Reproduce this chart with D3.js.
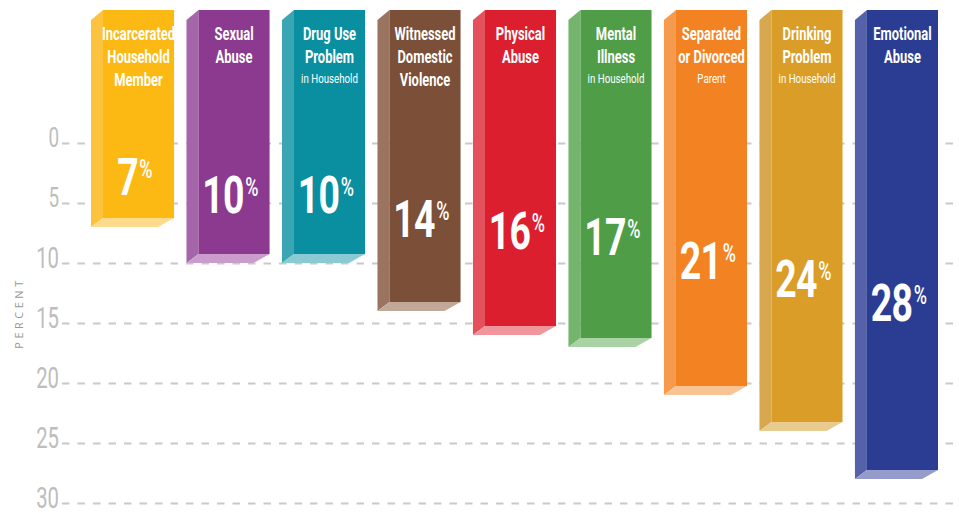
<!DOCTYPE html>
<html>
<head>
<meta charset="utf-8">
<script src="https://cdn.jsdelivr.net/npm/d3@7"></script>
<style>
  html, body { margin: 0; padding: 0; background: #fff; }
  svg { display: block; }
</style>
</head>
<body>
<div id="chart"></div>
<script>
// data
const categories = ["Incarcerated Household Member", "Sexual Abuse", "Drug Use Problem in Household",
  "Witnessed Domestic Violence", "Physical Abuse", "Mental Illness in Household",
  "Separated or Divorced Parent", "Drinking Problem in Household", "Emotional Abuse"];
const titleLines = [["Incarcerated", "Household", "Member"], ["Sexual", "Abuse"], ["Drug Use", "Problem"],
  ["Witnessed", "Domestic", "Violence"], ["Physical", "Abuse"], ["Mental", "Illness"],
  ["Separated", "or Divorced"], ["Drinking", "Problem"], ["Emotional", "Abuse"]];
const subLines = ["", "", "in Household", "", "", "in Household", "Parent", "in Household", ""];
const values = [7, 10, 10, 14, 16, 17, 21, 24, 28];
const yTicks = [0, 5, 10, 15, 20, 25, 30];

const front = ["#fdb913", "#8b3a8f", "#0a8fa1", "#7b4f38", "#dc1f2f", "#4f9e47", "#f38322", "#da9d27", "#2b3d92"];
const side  = ["#fdc33e", "#a466a8", "#3aa6b4", "#9a7460", "#e4505b", "#74b46c", "#f69a4e", "#d6a94e", "#5562aa"];
const floor = ["#fddb8c", "#c99ccb", "#8acbd3", "#c2a899", "#f0959c", "#a9d3a4", "#f9c494", "#e8cb8f", "#959ccb"];

const width = 959, height = 513;
const margin = ({top: 10, right: 21, bottom: 10, left: 91});
const depthX = 12, depthY = 9;
const narrow = "Roboto, 'Liberation Sans', sans-serif";

const x = d3.scaleBand().domain(categories).range([margin.left, width - margin.right]).paddingInner(0.13).paddingOuter(0);
const y = d3.scaleLinear().domain([0, 30]).range([143, 503]);
const cFront = d3.scaleOrdinal(categories, front);
const cSide = d3.scaleOrdinal(categories, side);
const cFloor = d3.scaleOrdinal(categories, floor);

const rows = categories.map((c, i) => ({cat: c, value: values[i], title: titleLines[i], sub: subLines[i]}));

const svg = d3.select("#chart").append("svg")
  .attr("width", width)
  .attr("height", height);

// dashed grid + tick labels
const yAxis = g => g
  .attr("transform", `translate(62,0)`)
  .call(d3.axisRight(y).tickValues(yTicks).tickSize(width - 62).tickFormat(""))
  .call(g => g.select(".domain").remove())
  .call(g => g.selectAll(".tick line")
    .attr("stroke", "#c9c9c9")
    .attr("stroke-width", 2)
    .attr("stroke-dasharray", "7.5 8"));

svg.append("g").call(yAxis);

svg.append("g")
  .selectAll("text")
  .data(yTicks)
  .join("text")
    .attr("transform", d => `translate(59,${y(d) + (d < 10 ? 4 : 5)}) scale(0.7,1)`)
    .attr("text-anchor", "end")
    .attr("font-family", narrow)
    .attr("font-size", d => d < 10 ? 27 : 29)
    .attr("fill", "#bdbdbd")
    .text(d => d);

svg.append("text")
  .attr("transform", `translate(23,313) rotate(-90)`)
  .attr("text-anchor", "middle")
  .attr("font-family", "'Open Sans', sans-serif")
  .attr("font-size", 11)
  .attr("letter-spacing", 3.5)
  .attr("fill", "#9a9a9a")
  .text("PERCENT");

// 3D bars
const bar = svg.append("g")
  .selectAll("g")
  .data(rows)
  .join("g");

const x0 = d => x(d.cat);
const x1 = d => x(d.cat) + x.bandwidth();
const barTop = margin.top;

bar.append("path")
  .attr("fill", d => cSide(d.cat))
  .attr("d", d => `M${x0(d)},${barTop + depthY + 1}L${x0(d) + depthX},${barTop}L${x0(d) + depthX},${y(d.value) - depthY}L${x0(d)},${y(d.value)}Z`);

bar.append("rect")
  .attr("fill", d => cFront(d.cat))
  .attr("x", d => x0(d) + depthX)
  .attr("y", barTop)
  .attr("width", d => x.bandwidth() - depthX)
  .attr("height", d => y(d.value) - depthY - barTop);

bar.append("path")
  .attr("fill", d => cFloor(d.cat))
  .attr("d", d => `M${x0(d)},${y(d.value)}L${x1(d) - 16},${y(d.value)}L${x1(d)},${y(d.value) - depthY}L${x0(d) + depthX},${y(d.value) - depthY}Z`);

// category titles
const cx = d => x0(d) + depthX + (x.bandwidth() - depthX) / 2;

bar.each(function(d) {
  const g = d3.select(this);
  d.title.forEach((t, j) => {
    g.append("text")
      .attr("transform", `translate(${cx(d)},${40 + j * 23}) scale(0.7,1)`)
      .attr("text-anchor", "middle")
      .attr("font-family", narrow)
      .attr("font-weight", "bold")
      .attr("font-size", 18.5)
      .attr("fill", "#fff")
      .text(t);
  });
  if (d.sub) {
    g.append("text")
      .attr("transform", `translate(${cx(d)},${83}) scale(0.72,1)`)
      .attr("text-anchor", "middle")
      .attr("font-family", narrow)
      .attr("font-size", 13.5)
      .attr("fill", "#fff")
      .text(d.sub);
  }
});

// value labels
const lab = bar.append("text")
  .attr("transform", d => `translate(${cx(d) - 4},${y(d.value / 2) + 10}) scale(0.72,1)`)
  .attr("text-anchor", "middle")
  .attr("font-family", narrow)
  .attr("font-weight", "bold")
  .attr("letter-spacing", -1)
  .attr("fill", "#fff");

lab.append("tspan")
  .attr("font-size", 52)
  .text(d => d.value);

lab.append("tspan")
  .attr("font-size", 25)
  .attr("font-weight", 500)
  .attr("dx", 2)
  .attr("dy", -17)
  .text("%");
</script>
</body>
</html>
